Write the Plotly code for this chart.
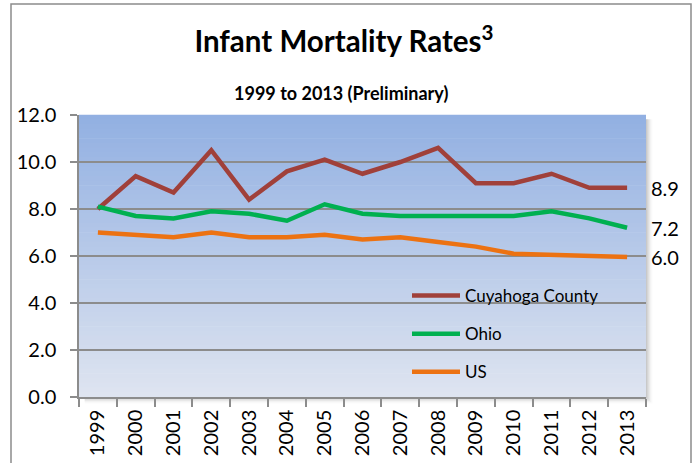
import plotly.graph_objects as go

years = [str(y) for y in range(1999, 2014)]
cuyahoga = [8.0, 9.4, 8.7, 10.5, 8.4, 9.6, 10.1, 9.5, 10.0, 10.6, 9.1, 9.1, 9.5, 8.9, 8.9]
ohio = [8.1, 7.7, 7.6, 7.9, 7.8, 7.5, 8.2, 7.8, 7.7, 7.7, 7.7, 7.7, 7.9, 7.6, 7.2]
us = [7.0, 6.9, 6.8, 7.0, 6.8, 6.8, 6.9, 6.7, 6.8, 6.6, 6.4, 6.1, 6.05, 6.0, 5.96]
end_labels = ["8.9", "7.2", "6.0"]

series = [
    ("Cuyahoga County", cuyahoga, "#A0403A"),
    ("Ohio", ohio, "#00B050"),
    ("US", us, "#EC7212"),
]

FONT = "Lato, 'Open Sans', sans-serif"

fig = go.Figure()
for i, (name, vals, col) in enumerate(series):
    fig.add_trace(go.Scatter(
        x=years, y=vals, name=name, mode="lines",
        line=dict(color=col, width=4.5),
        legendgroup=f"g{i}",
    ))

shapes = []
# gradient background of plot area
N = 60
top = (146, 176, 226)
bot = (222, 228, 240)
for k in range(N):
    t = k / (N - 1)
    c = tuple(round(top[j] + (bot[j] - top[j]) * t) for j in range(3))
    y1 = 1 - k / N
    y0 = 1 - (k + 1) / N
    shapes.append(dict(type="rect", xref="paper", yref="paper",
                       x0=0, x1=1, y0=y0 - 0.001, y1=y1 + 0.001,
                       fillcolor=f"rgb{c}", line=dict(width=0), layer="below"))
# shadow on the right and bottom
for k, a in enumerate([0.10, 0.08, 0.06, 0.04, 0.02]):
    dx = (k + 1) * 1.3 / 567
    dy = (k + 1) * 1.3 / 282
    shapes.append(dict(type="rect", xref="paper", yref="paper",
                       x0=1, x1=1 + dx, y0=-dy, y1=0.985,
                       fillcolor=f"rgba(60,60,60,{a})", line=dict(width=0), layer="below"))
    shapes.append(dict(type="rect", xref="paper", yref="paper",
                       x0=0.01, x1=1, y0=-dy, y1=0,
                       fillcolor=f"rgba(60,60,60,{a})", line=dict(width=0), layer="below"))
# outer chart border
shapes.append(dict(type="rect", xref="paper", yref="paper",
                   x0=(11 - 79) / 567, x1=(691 - 79) / 567,
                   y0=-0.4, y1=(397 - 4) / 282,
                   line=dict(color="#8C8C8C", width=1.5), layer="below"))

annotations = [
    dict(text="1999 to 2013 (Preliminary)", xref="paper", yref="paper",
         x=(341 - 79) / 567, y=(397 - 93) / 282, showarrow=False,
         font=dict(family=FONT, size=18, color="black", weight="bold"),
         xanchor="center", yanchor="middle"),
]
for (name, vals, col), lab in zip(series, end_labels):
    annotations.append(dict(text=lab, xref="paper", yref="y", x=1.005, y=vals[-1],
                            showarrow=False, xanchor="left", yanchor="middle",
                            font=dict(family=FONT, size=20, color="black")))

fig.update_layout(
    width=697, height=463,
    margin=dict(l=79, r=51, t=115, b=66, autoexpand=False),
    paper_bgcolor="white",
    plot_bgcolor="rgba(0,0,0,0)",
    title=dict(text="<b>Infant Mortality Rates</b><sup><b>3</b></sup>",
               x=(344) / 697, xanchor="center", y=1 - 42 / 463, yanchor="middle",
               font=dict(family=FONT, size=29.5, color="black")),
    font=dict(family=FONT, color="black"),
    shapes=shapes,
    annotations=annotations,
    showlegend=True,
    legend=dict(x=(407 - 79) / 567, y=(397 - 278) / 282, xanchor="left", yanchor="top",
                bgcolor="rgba(0,0,0,0)", font=dict(family=FONT, size=17, color="black"),
                tracegroupgap=13, itemwidth=48),
    xaxis=dict(type="category", range=[-0.5, 14.5], tickson="boundaries",
               ticks="outside", ticklen=8, tickcolor="#8C8C8C", tickwidth=1.5,
               tickangle=-90, showline=True, linecolor="#8C8C8C", linewidth=1.5,
               showgrid=False, ticklabelstandoff=3, automargin=False,
               tickfont=dict(family=FONT, size=20, color="black")),
    yaxis=dict(range=[0, 12], dtick=2, tickformat=".1f", ticks="outside", ticklen=7,
               tickcolor="#8C8C8C", tickwidth=1.5, showline=True, linecolor="#8C8C8C",
               linewidth=1.5, showgrid=True, gridcolor="#8C8C8C", gridwidth=1.5,
               zeroline=False, ticklabelstandoff=10, automargin=False,
               tickfont=dict(family=FONT, size=20, color="black")),
)

fig.write_html("out.html", config={"displayModeBar": False},
               post_script="document.body.style.margin='0px';")
